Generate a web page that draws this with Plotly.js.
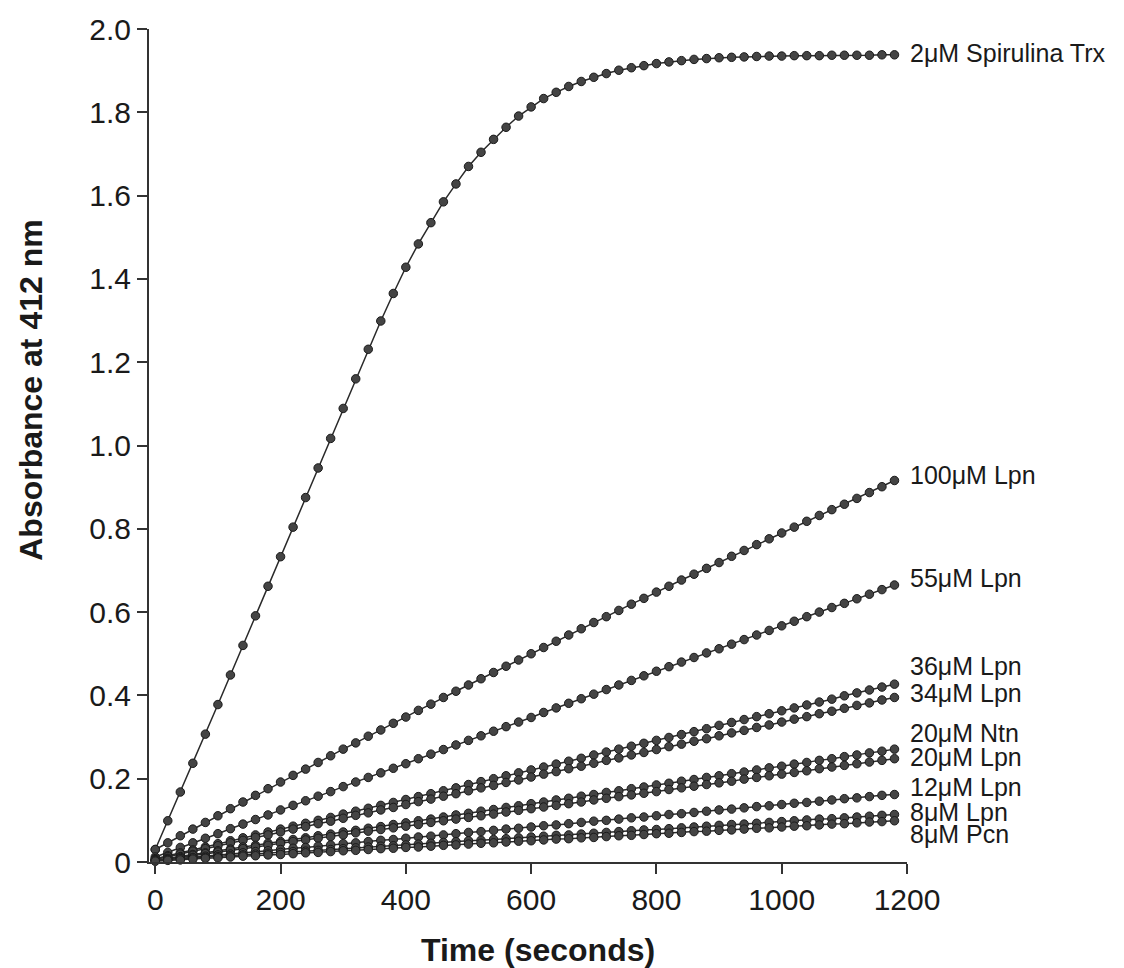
<!DOCTYPE html>
<html>
<head>
<meta charset="utf-8">
<script src="https://cdn.plot.ly/plotly-3.0.1.min.js"></script>
<style>html,body{margin:0;padding:0;background:#fff;}#chart{width:1124px;height:968px;}</style>
</head>
<body>
<div id="chart"></div>
<script>
// Time points (seconds)
const time = [0,20,40,60,80,100,120,140,160,180,200,220,240,260,280,300,320,340,360,380,400,420,440,460,480,500,520,540,560,580,600,620,640,660,680,700,720,740,760,780,800,820,840,860,880,900,920,940,960,980,1000,1020,1040,1060,1080,1100,1120,1140,1160,1180];

const seriesNames = ["2\u03bcM Spirulina Trx","100\u03bcM Lpn","55\u03bcM Lpn","36\u03bcM Lpn","34\u03bcM Lpn","20\u03bcM Ntn","20\u03bcM Lpn","12\u03bcM Lpn","8\u03bcM Lpn","8\u03bcM Pcn"];

const spirulinaTrx2 = [0.030,0.099,0.168,0.237,0.307,0.378,0.449,0.520,0.591,0.662,0.733,0.804,0.875,0.946,1.017,1.089,1.160,1.231,1.299,1.365,1.428,1.484,1.535,1.585,1.628,1.670,1.704,1.735,1.764,1.791,1.813,1.833,1.848,1.862,1.874,1.884,1.893,1.901,1.907,1.912,1.917,1.921,1.924,1.927,1.929,1.931,1.932,1.933,1.934,1.935,1.935,1.936,1.936,1.936,1.937,1.937,1.937,1.937,1.938,1.938];

const lpn100 = [0.030,0.046,0.063,0.079,0.095,0.111,0.128,0.144,0.160,0.176,0.192,0.208,0.223,0.239,0.255,0.271,0.286,0.302,0.317,0.333,0.348,0.364,0.379,0.395,0.410,0.425,0.440,0.455,0.470,0.485,0.500,0.515,0.530,0.545,0.560,0.575,0.589,0.604,0.619,0.633,0.648,0.662,0.677,0.691,0.705,0.719,0.734,0.748,0.762,0.776,0.790,0.804,0.818,0.832,0.846,0.859,0.873,0.887,0.901,0.916];

const lpn55 = [0.012,0.023,0.035,0.046,0.057,0.068,0.080,0.091,0.102,0.113,0.125,0.136,0.147,0.158,0.169,0.181,0.192,0.203,0.214,0.225,0.236,0.248,0.259,0.270,0.281,0.292,0.303,0.314,0.325,0.336,0.347,0.359,0.370,0.381,0.392,0.403,0.414,0.425,0.436,0.447,0.458,0.469,0.480,0.491,0.502,0.512,0.523,0.534,0.545,0.556,0.567,0.578,0.589,0.600,0.611,0.621,0.632,0.643,0.654,0.665];

const lpn36 = [0.008,0.015,0.022,0.029,0.036,0.044,0.051,0.058,0.065,0.072,0.079,0.086,0.093,0.100,0.107,0.115,0.122,0.129,0.136,0.143,0.150,0.157,0.164,0.171,0.178,0.186,0.193,0.200,0.207,0.214,0.221,0.228,0.235,0.242,0.249,0.257,0.264,0.271,0.278,0.285,0.292,0.299,0.306,0.313,0.320,0.328,0.335,0.342,0.349,0.356,0.363,0.370,0.377,0.384,0.391,0.399,0.406,0.413,0.420,0.427];

const lpn34 = [0.006,0.013,0.019,0.026,0.032,0.039,0.046,0.052,0.059,0.065,0.072,0.079,0.085,0.092,0.098,0.105,0.112,0.118,0.125,0.131,0.138,0.145,0.151,0.158,0.164,0.171,0.178,0.184,0.191,0.197,0.204,0.211,0.217,0.224,0.230,0.237,0.244,0.250,0.257,0.263,0.270,0.277,0.283,0.290,0.296,0.303,0.310,0.316,0.323,0.329,0.336,0.343,0.349,0.356,0.362,0.369,0.376,0.382,0.389,0.395];

const ntn20 = [0.004,0.009,0.013,0.018,0.022,0.027,0.031,0.036,0.040,0.045,0.049,0.054,0.058,0.063,0.067,0.072,0.076,0.081,0.085,0.090,0.094,0.099,0.103,0.108,0.113,0.117,0.122,0.126,0.131,0.135,0.140,0.144,0.149,0.153,0.158,0.162,0.167,0.171,0.176,0.180,0.185,0.189,0.194,0.198,0.203,0.207,0.212,0.216,0.221,0.226,0.230,0.235,0.239,0.244,0.248,0.253,0.257,0.262,0.266,0.271];

const lpn20 = [0.003,0.007,0.011,0.016,0.020,0.024,0.028,0.032,0.036,0.040,0.045,0.049,0.053,0.057,0.061,0.065,0.070,0.074,0.078,0.082,0.086,0.090,0.095,0.099,0.103,0.107,0.111,0.115,0.120,0.124,0.128,0.132,0.136,0.140,0.144,0.149,0.153,0.157,0.161,0.165,0.169,0.174,0.178,0.182,0.186,0.190,0.194,0.199,0.203,0.207,0.211,0.215,0.219,0.224,0.228,0.232,0.236,0.240,0.244,0.248];

const lpn12 = [0.003,0.006,0.008,0.011,0.014,0.017,0.019,0.022,0.025,0.027,0.030,0.033,0.035,0.038,0.041,0.044,0.046,0.049,0.052,0.054,0.057,0.060,0.062,0.065,0.068,0.071,0.073,0.076,0.079,0.081,0.084,0.087,0.089,0.092,0.095,0.098,0.100,0.103,0.106,0.108,0.111,0.114,0.116,0.119,0.122,0.125,0.127,0.130,0.133,0.135,0.138,0.141,0.143,0.146,0.149,0.152,0.154,0.157,0.160,0.162];

const lpn8 = [0.004,0.006,0.008,0.010,0.011,0.013,0.015,0.017,0.019,0.021,0.023,0.025,0.026,0.028,0.030,0.032,0.034,0.036,0.038,0.039,0.041,0.043,0.045,0.047,0.049,0.051,0.052,0.054,0.056,0.058,0.060,0.062,0.064,0.065,0.067,0.069,0.071,0.073,0.075,0.077,0.078,0.080,0.082,0.084,0.086,0.088,0.090,0.091,0.093,0.095,0.097,0.099,0.101,0.103,0.104,0.106,0.108,0.110,0.112,0.114];

const pcn8 = [0.002,0.004,0.005,0.007,0.009,0.010,0.012,0.014,0.015,0.017,0.018,0.020,0.022,0.023,0.025,0.027,0.028,0.030,0.032,0.033,0.035,0.036,0.038,0.040,0.041,0.043,0.045,0.046,0.048,0.050,0.051,0.053,0.055,0.056,0.058,0.059,0.061,0.063,0.064,0.066,0.068,0.069,0.071,0.073,0.074,0.076,0.077,0.079,0.081,0.082,0.084,0.086,0.087,0.089,0.091,0.092,0.094,0.096,0.097,0.099];

// Label anchor values (y, in absorbance units) for the end-of-line labels
const labelY = [1.942,0.929,0.682,0.470,0.405,0.310,0.252,0.180,0.120,0.068];

const xTicks = [0,200,400,600,800,1000,1200];
const yTicks = [0,0.2,0.4,0.6,0.8,1.0,1.2,1.4,1.6,1.8,2.0];
const yTickText = ["0","0.2","0.4","0.6","0.8","1.0","1.2","1.4","1.6","1.8","2.0"];

const allSeries = [spirulinaTrx2,lpn100,lpn55,lpn36,lpn34,ntn20,lpn20,lpn12,lpn8,pcn8];

const traces = allSeries.map((ys,i)=>({
  x: time, y: ys, name: seriesNames[i], type: 'scatter', mode: 'lines+markers',
  cliponaxis: false,
  line: {color:'#2a2a2a', width:1.5},
  marker: {size:8.5, color:'#444444', line:{color:'#1a1a1a', width:1}},
  showlegend:false
}));

const textFont = {family:'"Liberation Sans", Arial, sans-serif', color:'#1a1a1a'};

const annotations = seriesNames.map((n,i)=>({
  xref:'x', yref:'y', x:1200, y:labelY[i], text:n, showarrow:false,
  xanchor:'left', yanchor:'middle', xshift:1,
  font:Object.assign({size:25}, textFont)
}));
annotations.push({
  xref:'paper', yref:'paper', x:0.513, y:-0.106, text:'<b>Time (seconds)</b>', showarrow:false,
  xanchor:'center', yanchor:'middle', font:Object.assign({size:32}, textFont)
});
annotations.push({
  xref:'paper', yref:'paper', x:-0.156, y:0.5666, text:'<b>Absorbance at 412 nm</b>', showarrow:false,
  textangle:-90, xanchor:'center', yanchor:'middle', font:Object.assign({size:32}, textFont)
});

const layout = {
  width:1124, height:968,
  margin:{l:149, r:217, t:29, b:106},
  paper_bgcolor:'#ffffff', plot_bgcolor:'#ffffff',
  showlegend:false,
  font:textFont,
  xaxis:{
    range:[-10,1200], tickvals:xTicks, ticktext:xTicks.map(String),
    showline:true, linecolor:'#333', linewidth:2,
    ticks:'outside', ticklen:10, tickwidth:2, tickcolor:'#333',
    showgrid:false, zeroline:false,
    tickfont:Object.assign({size:30}, textFont)
  },
  yaxis:{
    range:[0,2.0], tickvals:yTicks, ticktext:yTickText,
    showline:true, linecolor:'#333', linewidth:2,
    ticks:'outside', ticklen:10, tickwidth:2, tickcolor:'#333',
    showgrid:false, zeroline:false,
    tickfont:Object.assign({size:30}, textFont)
  },
  annotations:annotations
};

Plotly.newPlot('chart', traces, layout, {staticPlot:true, displayModeBar:false});
</script>
</body>
</html>
